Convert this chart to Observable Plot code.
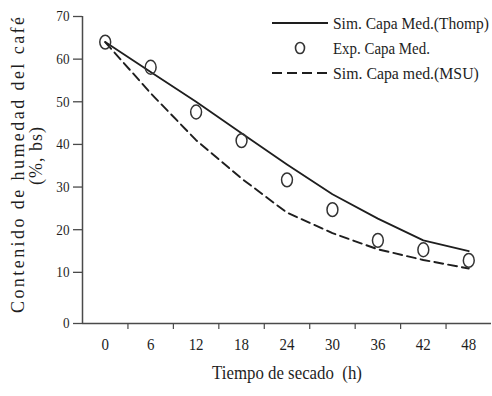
<!DOCTYPE html>
<html>
<head>
<meta charset="utf-8">
<script src="https://cdn.jsdelivr.net/npm/d3@7"></script>
<script src="https://cdn.jsdelivr.net/npm/@observablehq/plot@0.6"></script>
<style>
  body { margin: 0; background: #fff; }
  #chart { position: relative; width: 492px; height: 396px; }
  #chart svg text { font-family: "Liberation Serif", "Times New Roman", serif; }
  #legend { position: absolute; left: 0; top: 0; pointer-events: none; }
</style>
</head>
<body>
<div id="chart"></div>
<script>
// ---- data ----
const hours = [0, 6, 12, 18, 24, 30, 36, 42, 48];
const thompSim = [64, 57, 50, 42.6, 35.3, 28.3, 22.6, 17.5, 15];
const expValues = [64, 58.1, 47.6, 40.9, 31.7, 24.7, 17.5, 15.3, 12.8];
const msuSim = [64, 52, 41, 32, 24, 19.2, 15.4, 12.9, 10.9];

const seriesNames = ["Sim. Capa Med.(Thomp)", "Exp. Capa Med.", "Sim. Capa med.(MSU)"];
const yTicks = [10, 20, 30, 40, 50, 60, 70];
const xTickLabels = [0, 6, 12, 18, 24, 30, 36, 42, 48];
const xTickMarks = [3, 9, 15, 21, 27, 33, 39, 45];
const yTitle = ["Contenido de humedad del café", "(%, bs)"];
const xTitle = "Tiempo de secado \u00a0(h)";

const xDomain = [-3, 51];
const yDomain = [-2, 70];

const thomp = hours.map((h, i) => ({h, v: thompSim[i]}));
const msu = hours.map((h, i) => ({h, v: msuSim[i]}));
const exp = hours.map((h, i) => ({h, v: expValues[i]}));

const ink = "#1e1e1e";
const axisInk = "#4a4a4a";
const serif = "'Liberation Serif', 'Times New Roman', serif";

// slightly tall ellipse, like the hollow "o" markers of the original
const ovalSymbol = {
  draw(ctx, size) {
    const r = Math.sqrt(size / Math.PI);
    const rx = r * 0.85, ry = r * 1.08, k = 0.5523;
    ctx.moveTo(rx, 0);
    ctx.bezierCurveTo(rx, ry * k, rx * k, ry, 0, ry);
    ctx.bezierCurveTo(-rx * k, ry, -rx, ry * k, -rx, 0);
    ctx.bezierCurveTo(-rx, -ry * k, -rx * k, -ry, 0, -ry);
    ctx.bezierCurveTo(rx * k, -ry, rx, -ry * k, rx, 0);
    ctx.closePath();
  }
};

const plot = Plot.plot({
  width: 492,
  height: 396,
  marginLeft: 82,
  marginRight: 1,
  marginTop: 16,
  marginBottom: 73,
  style: {fontFamily: serif, color: ink, background: "white"},
  x: {domain: xDomain, label: null},
  y: {domain: yDomain, label: null},
  marks: [
    Plot.ruleY([yDomain[0]], {stroke: axisInk, strokeWidth: 1.5}),
    Plot.ruleX([xDomain[0]], {stroke: axisInk, strokeWidth: 1.5}),
    Plot.axisY({ticks: [yDomain[0], ...yTicks], tickFormat: d => d < 0 ? "0" : String(d),
      tickSize: 9, tickPadding: 4, fontSize: 15.5, stroke: axisInk, strokeWidth: 1.3, label: null}),
    Plot.axisX({ticks: xTickMarks, tickFormat: () => "", tickSize: 6, stroke: axisInk, strokeWidth: 1.2, label: null}),
    Plot.axisX({ticks: xTickLabels, tickSize: 0, tickPadding: 14, fontSize: 17, label: null}),
    Plot.line(thomp, {x: "h", y: "v", stroke: ink, strokeWidth: 1.8}),
    Plot.line(msu, {x: "h", y: "v", stroke: ink, strokeWidth: 1.9, strokeDasharray: "9,5"}),
    Plot.dot(exp, {x: "h", y: "v", r: 6.4, symbol: ovalSymbol, stroke: "#333", strokeWidth: 1.5, fill: "none"}),
    Plot.text([yTitle[0]], {frameAnchor: "left", dx: -64, dy: -5, rotate: -90, fontSize: 18, fill: ink, textAnchor: "start"}),
    Plot.text([yTitle[1]], {frameAnchor: "left", dx: -46, dy: -14, rotate: -90, fontSize: 18, fill: ink, textAnchor: "start"}),
    Plot.text([xTitle], {frameAnchor: "bottom", dy: 55, fontSize: 18.5, fill: ink, textAnchor: "middle"})
  ]
});

const chart = document.getElementById("chart");
chart.appendChild(plot);

// horizontal squeeze about each text's own anchor point (keeps text-anchor semantics)
function squeezeEl(el, factor) {
  const x = +el.getAttribute("x") || 0, y = +el.getAttribute("y") || 0;
  const t = el.getAttribute("transform") || "";
  el.setAttribute("transform", `${t} translate(${x},${y}) scale(${factor},1) translate(${-x},${-y})`);
}
function squeeze(sel, factor) { sel.each(function () { squeezeEl(this, factor); }); }

// ---- legend (overlay, top right) ----
const leg = d3.select(chart).append("svg")
  .attr("id", "legend").attr("width", 492).attr("height", 100);
const rows = [
  {name: seriesNames[0], kind: "solid", y: 23, len: 156},
  {name: seriesNames[1], kind: "dot", y: 48, len: 97},
  {name: seriesNames[2], kind: "dash", y: 73, len: 146}
];
rows.forEach(r => {
  if (r.kind === "dot") {
    leg.append("ellipse").attr("cx", 300).attr("cy", r.y).attr("rx", 4.5).attr("ry", 5.5)
      .attr("fill", "none").attr("stroke", "#333").attr("stroke-width", 1.6);
  } else {
    leg.append("line").attr("x1", 272).attr("x2", 328).attr("y1", r.y).attr("y2", r.y)
      .attr("stroke", ink).attr("stroke-width", 2)
      .attr("stroke-dasharray", r.kind === "dash" ? "10,5" : null);
  }
  const t = leg.append("text").attr("x", 333).attr("y", r.y).attr("dy", "0.35em")
    .attr("font-size", 17).attr("fill", ink).attr("font-family", serif)
    .text(r.name);
  const w = t.node().getComputedTextLength();
  if (w > 0) squeezeEl(t.node(), r.len / w);
});

// ---- condense the serif glyphs horizontally, as in the original figure ----
const svg = d3.select(plot);
squeeze(svg.selectAll('g[aria-label="y-axis tick label"] text'), 0.85);
squeeze(svg.selectAll('g[aria-label="x-axis tick label"] text'), 0.88);
const byText = s => svg.selectAll("text").filter(function () { return this.textContent === s; });
squeeze(byText(xTitle), 0.91);
// y title: spread letters to the original's length; start-anchored, shifted back by half its length
byText(yTitle[0]).attr("textLength", 296).attr("lengthAdjust", "spacing").attr("dx", -148);
byText(yTitle[1]).attr("textLength", 58).attr("lengthAdjust", "spacing").attr("dx", -29);
</script>
</body>
</html>
